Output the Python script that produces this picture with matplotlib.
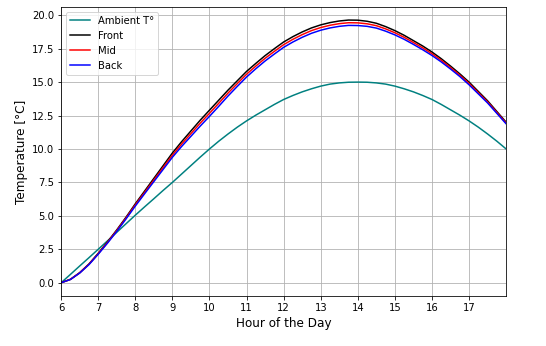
import matplotlib
matplotlib.use("Agg")
import matplotlib.pyplot as plt

# hours of the day, quarter-hour steps
hours = [6.0, 6.25, 6.5, 6.75, 7.0, 7.25, 7.5, 7.75, 8.0, 8.25, 8.5, 8.75,
         9.0, 9.25, 9.5, 9.75, 10.0, 10.25, 10.5, 10.75, 11.0, 11.25, 11.5, 11.75,
         12.0, 12.25, 12.5, 12.75, 13.0, 13.25, 13.5, 13.75, 14.0, 14.25, 14.5, 14.75,
         15.0, 15.25, 15.5, 15.75, 16.0, 16.25, 16.5, 16.75, 17.0, 17.25, 17.5, 17.75,
         18.0]

ambient = [0.0, 0.62, 1.25, 1.87, 2.5, 3.13, 3.77, 4.41, 5.05, 5.67, 6.28, 6.9,
           7.5, 8.13, 8.76, 9.39, 10.0, 10.58, 11.12, 11.63, 12.1, 12.53, 12.93, 13.33,
           13.7, 14.0, 14.27, 14.5, 14.7, 14.85, 14.94, 14.99, 15.0, 14.99, 14.94, 14.85,
           14.7, 14.5, 14.27, 14.0, 13.7, 13.33, 12.93, 12.53, 12.1, 11.63, 11.12, 10.58,
           10.0]
front = [0.0, 0.25, 0.75, 1.4, 2.2, 3.05, 3.95, 4.9, 5.9, 6.85, 7.8, 8.75,
         9.7, 10.55, 11.35, 12.15, 12.9, 13.65, 14.4, 15.1, 15.8, 16.4, 16.98, 17.5,
         18.0, 18.4, 18.75, 19.05, 19.28, 19.45, 19.57, 19.64, 19.63, 19.55, 19.4, 19.15,
         18.85, 18.5, 18.1, 17.7, 17.25, 16.75, 16.2, 15.62, 15.0, 14.3, 13.6, 12.8,
         12.0]
mid = [0.0, 0.25, 0.74, 1.38, 2.17, 3.01, 3.9, 4.84, 5.82, 6.75, 7.68, 8.61,
       9.54, 10.37, 11.15, 11.93, 12.67, 13.42, 14.18, 14.89, 15.59, 16.2, 16.78, 17.3,
       17.8, 18.2, 18.55, 18.85, 19.08, 19.25, 19.37, 19.44, 19.43, 19.36, 19.22, 18.98,
       18.69, 18.35, 17.96, 17.56, 17.12, 16.63, 16.09, 15.52, 14.9, 14.21, 13.52, 12.73,
       11.94]
back = [0.0, 0.24, 0.72, 1.35, 2.13, 2.96, 3.84, 4.77, 5.73, 6.65, 7.56, 8.47,
        9.38, 10.19, 10.95, 11.71, 12.44, 13.19, 13.96, 14.68, 15.38, 16.0, 16.58, 17.1,
        17.6, 18.0, 18.35, 18.65, 18.88, 19.05, 19.17, 19.24, 19.23, 19.17, 19.04, 18.81,
        18.53, 18.2, 17.82, 17.42, 16.99, 16.51, 15.98, 15.42, 14.8, 14.12, 13.44, 12.66,
        11.88]

xticks = list(range(6, 18))

fig = plt.figure(figsize=(546 / 72, 346 / 72), dpi=72)
ax = fig.add_axes([0.112, 0.145, 0.815, 0.835])

ax.plot(hours, ambient, color="teal", lw=1.5, label="Ambient T°")
ax.plot(hours, front, color="black", lw=1.5, label="Front")
ax.plot(hours, mid, color="red", lw=1.5, label="Mid")
ax.plot(hours, back, color="blue", lw=1.5, label="Back")

ax.set_xlim(6, 18)
ax.set_xticks(xticks)
ax.grid(True, color="#b0b0b0", lw=0.8)
ax.set_xlabel("Hour of the Day", fontsize=12)
ax.set_ylabel("Temperature [°C]", fontsize=12)
ax.legend(loc="upper left")

fig.savefig("out.png", dpi=72)
